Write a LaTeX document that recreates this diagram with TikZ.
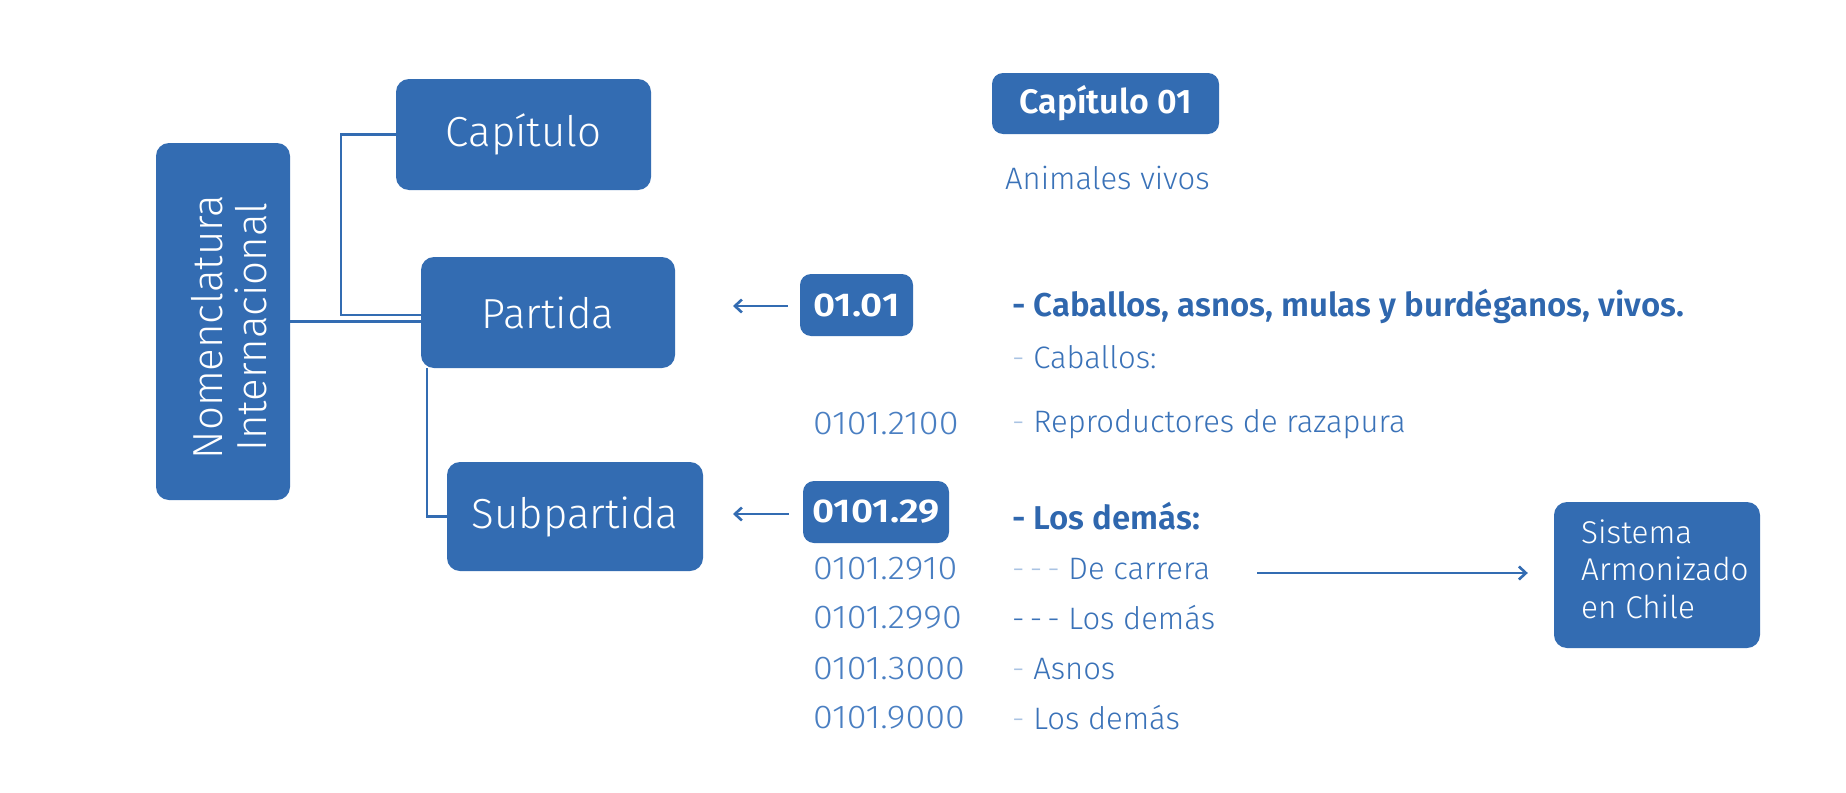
\documentclass[tikz,border=0pt]{standalone}
\usepackage{fontspec}
\setmainfont{Fira Sans}
\newfontfamily\fl{Fira Sans Light}
\newfontfamily\fsb{Fira Sans SemiBold}
\usetikzlibrary{arrows.meta}
\definecolor{boxblue}{HTML}{336CB2}
\definecolor{txtblue}{HTML}{3A72B8}
\definecolor{darkblue}{HTML}{2F67AE}
\definecolor{numblue}{HTML}{4A7FC2}
\definecolor{dashblue}{HTML}{A9C3E3}
\tikzset{
  bigbox/.style={fill=boxblue, rounded corners=13pt, text=white, inner sep=0pt,
    font=\fl\fontsize{42}{46}\selectfont, align=center},
  codebox/.style={fill=boxblue, rounded corners=11pt, text=white, inner sep=0pt,
    font=\fsb\fontsize{33}{38}\selectfont},
  desc/.style={anchor=west, inner sep=0pt, text=txtblue, font=\fl\fontsize{31}{36}\selectfont},
  descb/.style={anchor=west, inner sep=0pt, text=darkblue, font=\fsb\fontsize{33}{38}\selectfont},
  num/.style={anchor=west, inner sep=0pt, text=numblue, font=\fl\fontsize{33}{38}\selectfont},
  conn/.style={draw=boxblue, line width=2.6pt},
  arr/.style={draw=boxblue, line width=2.6pt, -{Straight Barb[length=7pt,width=13pt,line width=2.6pt]}},
}
\newcommand{\ld}{\textcolor{dashblue}{-}}
\newcommand{\widenum}[1]{\scalebox{1.09}[1]{#1}}
\newcommand{\widebold}[1]{\scalebox{1.16}[1]{#1}}
\begin{document}
\begin{tikzpicture}[x=1pt,y=-1pt]
\useasboundingbox (0,0) rectangle (1846,792);
\fill[white] (0,0) rectangle (1846,792);

% left boxes
\node[bigbox, minimum width=134pt, minimum height=357pt] (nom) at (223,321.5) {};
\node[inner sep=0pt, text=white, rotate=90, align=center,
  font=\fl\fontsize{42}{46}\selectfont] (nomtxt) at (229,327)
  {Nomenclatura\\[-2pt]Internacional};
\node[bigbox, minimum width=255pt, minimum height=111pt] (cap) at (523.5,134.5) {Capítulo};
\node[bigbox, minimum width=254pt, minimum height=111pt] (par) at (548,312.5) {Partida};
\node[bigbox, minimum width=256pt, minimum height=109pt] (sub) at (575,516.5) {Subpartida};

% connectors on the left
\coordinate (k1) at (341,134.5);
\coordinate (k2) at (341,315);
\draw[conn] (cap.west) -- (k1) -- (k2) -- (k2 -| par.west);
\draw[conn] (nom.east) -- (nom.east -| par.west);
\coordinate (k3) at (427,516.5);
\draw[conn] (par.south west -| k3) -- (k3) -- (sub.west);

% chapter
\node[codebox, minimum width=227pt, minimum height=61pt, font=\fsb\fontsize{34}{38}\selectfont] (c01) at (1105.5,103.5) {Capítulo 01};
\node[desc] (anim) at (1005,178) {Animales vivos};

% code boxes
\node[codebox, minimum width=113pt, minimum height=62pt] (b1) at (856.5,305) {\widebold{01.01}};
\node[codebox, minimum width=146pt, minimum height=62pt] (b2) at (876,512) {\widebold{0101.29}};
\coordinate (a1) at (733,306);
\coordinate (a2) at (733,514);
\draw[arr, shorten <=12pt] (b1.west |- a1) -- (a1);
\draw[arr, shorten <=14pt] (b2.west |- a2) -- (a2);

% descriptions
\node[descb] (d1) at (1012,306) {- Caballos, asnos, mulas y burdéganos, vivos.};
\node[desc] (d2) at (1012,357) {\ld{} Caballos:};
\node[num] (n3) at (813,424) {\widenum{0101.2100}};
\node[desc] (d3) at (1012,424) {\ld{} Reproductores de razapura};
\node[descb] (d4) at (1012,516) {- Los demás:};
\node[num] (n5) at (813,569) {\widenum{0101.2910}};
\node[desc] (d5) at (1012,569) {\textcolor{dashblue}{-\,-\,-}\ De carrera};
\node[num] (n6) at (813,618) {\widenum{0101.2990}};
\node[desc] (d6) at (1012,618) {-\,-\,-\ Los demás};
\node[num] (n7) at (813,669) {\widenum{0101.3000}};
\node[desc] (d7) at (1012,669) {\ld{} Asnos};
\node[num] (n8) at (813,718) {\widenum{0101.9000}};
\node[desc] (d8) at (1012,718) {\ld{} Los demás};

% Sistema box
\node[bigbox, minimum width=206pt, minimum height=146pt] (sa) at (1657,575) {};
\node[anchor=west, inner sep=0pt, text=white, align=left,
  font=\fl\fontsize{31.5}{37.5}\selectfont] (satxt) at (1581,569)
  {Sistema\\Armonizado\\en Chile};
\coordinate (s0) at (1257,573);
\draw[arr, shorten >=26pt] (s0) -- (s0 -| sa.west);
\end{tikzpicture}
\end{document}
